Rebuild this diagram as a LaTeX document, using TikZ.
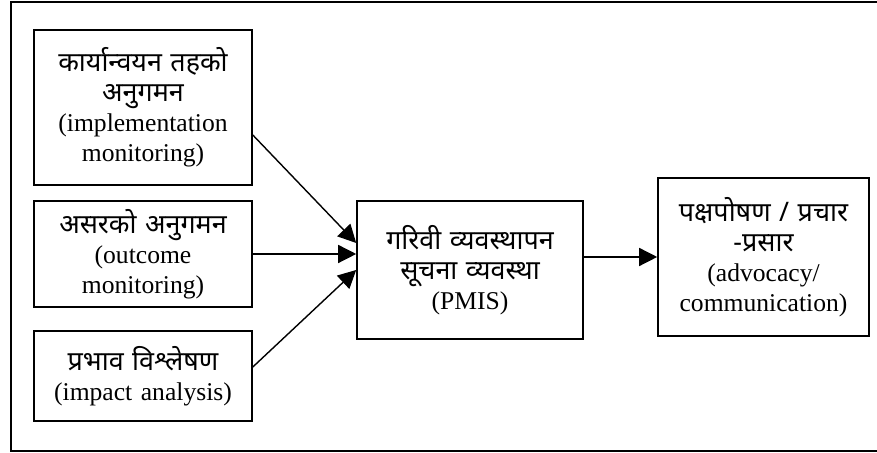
\documentclass[tikz,border=0pt]{standalone}
\usepackage{fontspec}
\setmainfont{Liberation Serif}
\newfontfamily\deva[Script=Devanagari,Scale=1.05]{Noto Sans}
\usetikzlibrary{arrows.meta}

\tikzset{
  box/.style={draw,line width=0.8pt,align=center,inner sep=0pt,font=\fontsize{12.8}{15}\selectfont},
  conn/.style={line width=0.7pt,arrows={-Triangle[length=9pt,width=9pt]}}
}

\begin{document}
\begin{tikzpicture}[x=0.5pt,y=0.5pt]
        \useasboundingbox (0,0) rectangle (877,453);
        \draw[line width=0.8pt] (877,451) -- (11,451) -- (11,2) -- (877,2);
        \node[box,text width=109pt,minimum height=77.5pt] (impl) at (143,345.5) {{\deva कार्यान्वयन तहको}\\{\deva अनुगमन}\\(implementation\\monitoring)};
        \node[box,text width=109pt,minimum height=53pt] (outcome) at (143,199) {{\deva असरको अनुगमन}\\(outcome\\monitoring)};
        \node[box,text width=109pt,minimum height=45pt] (impact) at (143,77) {{\deva प्रभाव विश्लेषण}\\(impact analysis)};
        \node[box,text width=113pt,minimum height=69pt] (pmis) at (470,183) {{\deva गरिवी व्यवस्थापन}\\{\deva सूचना व्यवस्था}\\(PMIS)};
        \node[box,text width=105.5pt,minimum height=79pt] (adv) at (763.5,196) {{\deva पक्षपोषण / प्रचार}\\{\deva -प्रसार}\\(advocacy/\\communication)};
        \draw[conn] ([yshift=-13.75pt]impl.east) -- ([yshift=13.5pt]pmis.west);
        \draw[conn] (outcome.east) -- (outcome.east -| pmis.west);
        \draw[conn] ([yshift=4.5pt]impact.east) -- (pmis.west);
        \draw[conn] (pmis.east |- adv.west) -- (adv.west);
      \end{tikzpicture}
\end{document}
